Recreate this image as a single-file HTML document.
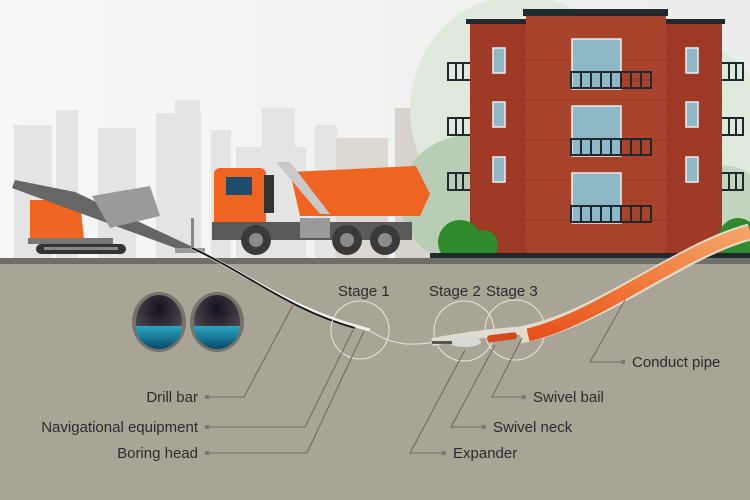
<!DOCTYPE html>
<html><head><meta charset="utf-8"><style>
html,body{margin:0;padding:0;width:750px;height:500px;overflow:hidden;background:#fff}
svg{display:block}
text{font-family:"Liberation Sans",sans-serif;font-size:15px;fill:#2b2b2b}
</style></head><body>
<svg width="750" height="500" viewBox="0 0 750 500" xmlns="http://www.w3.org/2000/svg">
<defs>
<linearGradient id="sky" x1="0" y1="0" x2="1" y2="0"><stop offset="0" stop-color="#f7f7f7"/><stop offset="1" stop-color="#ececec"/></linearGradient>
<linearGradient id="pipe" x1="0" y1="1" x2="1" y2="0"><stop offset="0" stop-color="#e8501a"/><stop offset="0.5" stop-color="#f07a3a"/><stop offset="1" stop-color="#f5a56a"/></linearGradient>
<radialGradient id="tun" cx="0.5" cy="0.25" r="0.7"><stop offset="0" stop-color="#15101f"/><stop offset="1" stop-color="#5a5458"/></radialGradient>
<linearGradient id="wat" x1="0" y1="0" x2="0" y2="1"><stop offset="0" stop-color="#2aa6c4"/><stop offset="1" stop-color="#0a4a6a"/></linearGradient>
</defs>
<rect width="750" height="260" fill="url(#sky)"/>
<g fill="#e4e4e4">
<rect x="14" y="125" width="38" height="135"/><rect x="56" y="110" width="22" height="150"/>
<rect x="98" y="128" width="38" height="132"/><rect x="156" y="113" width="45" height="147"/>
<rect x="175" y="100" width="25" height="20"/><rect x="211" y="130" width="20" height="130"/>
<rect x="236" y="147" width="70" height="113"/><rect x="262" y="108" width="33" height="50"/>
<rect x="315" y="125" width="22" height="135"/>
</g>
<rect x="336" y="138" width="52" height="122" fill="#dcd8d2"/>
<rect x="395" y="108" width="35" height="152" fill="#d6d2cc"/>
<ellipse cx="520" cy="110" rx="110" ry="115" fill="#dfe9dc"/>
<ellipse cx="690" cy="150" rx="80" ry="110" fill="#dfe9dc"/>
<ellipse cx="470" cy="200" rx="70" ry="65" fill="#b9cdb5"/>
<ellipse cx="720" cy="210" rx="50" ry="45" fill="#c3d4bf"/>
<rect x="470" y="22" width="56" height="236" fill="#9e3a25"/>
<rect x="666" y="22" width="56" height="236" fill="#9e3a25"/>
<rect x="526" y="15" width="140" height="243" fill="#a8432c"/>
<rect x="466" y="19" width="60" height="5" fill="#1f2a30"/>
<rect x="666" y="19" width="59" height="5" fill="#1f2a30"/>
<rect x="523" y="9" width="145" height="7" fill="#1f2a30"/>
<g stroke="#8e321f" stroke-width="1" opacity="0.5">
<path d="M470 40H722M470 60H722M470 80H722M470 100H722M470 120H722M470 140H722M470 160H722M470 180H722M470 200H722M470 220H722M470 240H722"/>
</g>
<g fill="#8fb8c6" stroke="#eee" stroke-width="1.5">
<rect x="493" y="48" width="12" height="25"/><rect x="493" y="102" width="12" height="25"/><rect x="493" y="157" width="12" height="25"/>
<rect x="686" y="48" width="12" height="25"/><rect x="686" y="102" width="12" height="25"/><rect x="686" y="157" width="12" height="25"/>
<rect x="572" y="39" width="49" height="50"/><rect x="572" y="106" width="49" height="50"/><rect x="572" y="173" width="49" height="50"/>
</g>
<g fill="none" stroke="#1f2a30" stroke-width="2">
<rect x="571" y="72" width="80" height="16"/><rect x="571" y="139" width="80" height="16"/><rect x="571" y="206" width="80" height="16"/>
<path d="M581 72v16M591 72v16M601 72v16M611 72v16M621 72v16M631 72v16M641 72v16M581 139v16M591 139v16M601 139v16M611 139v16M621 139v16M631 139v16M641 139v16M581 206v16M591 206v16M601 206v16M611 206v16M621 206v16M631 206v16M641 206v16"/>
<path d="M470 63h-22v17h22M456 63v17M463 63v17M470 118h-22v17h22M456 118v17M463 118v17M470 173h-22v17h22M456 173v17M463 173v17"/>
<path d="M722 63h21v17h-21M729 63v17M736 63v17M722 118h21v17h-21M729 118v17M736 118v17M722 173h21v17h-21M729 173v17M736 173v17"/>
</g>
<ellipse cx="460" cy="242" rx="22" ry="22" fill="#2e8a2a"/><ellipse cx="484" cy="246" rx="14" ry="16" fill="#2e8a2a"/>
<ellipse cx="738" cy="240" rx="20" ry="22" fill="#2e8a2a"/>
<rect x="430" y="253" width="320" height="6" fill="#1f2a30"/>
<rect y="258" width="750" height="242" fill="#a8a597"/>
<rect y="258" width="750" height="6" fill="#6f6e66"/>
<!-- truck -->
<path d="M290 172l126-6 14 28-10 22H300z" fill="#ef6420"/>
<path d="M276 162l14 0 40 52-10 0z" fill="#c9c9c9"/>
<rect x="214" y="168" width="52" height="62" rx="6" fill="#ef6420"/>
<rect x="226" y="177" width="26" height="18" fill="#1e4d6b"/>
<rect x="264" y="175" width="10" height="38" fill="#333"/>
<rect x="212" y="222" width="200" height="18" fill="#5a5a5a"/>
<rect x="300" y="218" width="30" height="20" fill="#9a9a9a"/>
<g fill="#3a3a3a"><circle cx="256" cy="240" r="15"/><circle cx="347" cy="240" r="15"/><circle cx="385" cy="240" r="15"/></g>
<g fill="#8a8a8a"><circle cx="256" cy="240" r="7"/><circle cx="347" cy="240" r="7"/><circle cx="385" cy="240" r="7"/></g>
<!-- drill rig -->
<path d="M30 200h50l4 40H30z" fill="#ef6420"/>
<path d="M15 180l60 12 120 56-6 5L12 188z" fill="#666"/>
<path d="M92 196l58 -10 10 30-50 12z" fill="#9a9a9a"/>
<rect x="28" y="238" width="85" height="6" fill="#777"/>
<rect x="36" y="244" width="90" height="10" rx="5" fill="#333"/>
<rect x="44" y="247" width="74" height="3" fill="#888"/>
<rect x="191" y="218" width="3" height="35" fill="#888"/>
<rect x="175" y="248" width="30" height="5" fill="#999"/>
<ellipse cx="159" cy="322" rx="27" ry="30" fill="#77736a"/>
<ellipse cx="217" cy="322" rx="27" ry="30" fill="#77736a"/>
<ellipse cx="159" cy="322" rx="23" ry="27" fill="url(#tun)"/>
<ellipse cx="217" cy="322" rx="23" ry="27" fill="url(#tun)"/>
<path d="M136 326h46a23 23 0 0 1-46 0z" fill="url(#wat)"/>
<path d="M194 326h46a23 23 0 0 1-46 0z" fill="url(#wat)"/>
<path d="M192 248C250 275 290 310 370 330" fill="none" stroke="#eee" stroke-width="3"/>
<path d="M192 248C250 275 290 310 355 328" fill="none" stroke="#111" stroke-width="1.8"/>
<path d="M370 331C400 350 420 343 440 342" fill="none" stroke="#e6e6e0" stroke-width="1"/>
<g fill="none" stroke="#e8e6dc" stroke-width="1">
<circle cx="360" cy="330" r="29"/><circle cx="464" cy="331" r="30"/><circle cx="515" cy="330" r="30"/>
</g>
<path d="M520 335C600 320 680 250 750 232" fill="none" stroke="#e0dccb" stroke-width="17"/>
<path d="M528 335C600 318 680 250 750 232" fill="none" stroke="url(#pipe)" stroke-width="13"/>
<path d="M432 342c20-3 40-8 95-12" fill="none" stroke="#e0ddd0" stroke-width="8"/>
<ellipse cx="465" cy="342" rx="16" ry="5" fill="#d8d8d8"/>
<rect x="432" y="341" width="20" height="3" fill="#555"/>
<rect x="487" y="334" width="30" height="7" rx="3" fill="#d14a20" transform="rotate(-7 500 337)"/>
<g fill="none" stroke="#6b6960" stroke-width="1">
<path d="M209 397H244L293 305M209 427H305L353 330M209 453H307L364 331"/>
<path d="M446 453H410L465 350M486 427H451L495 345M526 397H492L522 338M624 362H590L625 300"/>
</g>
<g fill="#7c7a72">
<rect x="205" y="395" width="4" height="4"/><rect x="205" y="425" width="4" height="4"/><rect x="205" y="451" width="4" height="4"/>
<rect x="442" y="451" width="4" height="4"/><rect x="482" y="425" width="4" height="4"/><rect x="522" y="395" width="4" height="4"/><rect x="621" y="360" width="4" height="4"/>
</g>
<text x="198" y="402" text-anchor="end">Drill bar</text>
<text x="198" y="432" text-anchor="end">Navigational equipment</text>
<text x="198" y="458" text-anchor="end">Boring head</text>
<text x="453" y="458">Expander</text>
<text x="493" y="432">Swivel neck</text>
<text x="533" y="402">Swivel bail</text>
<text x="632" y="367">Conduct pipe</text>
<text x="338" y="296">Stage 1</text>
<text x="429" y="296">Stage 2</text>
<text x="486" y="296">Stage 3</text>
</svg>
</body></html>
